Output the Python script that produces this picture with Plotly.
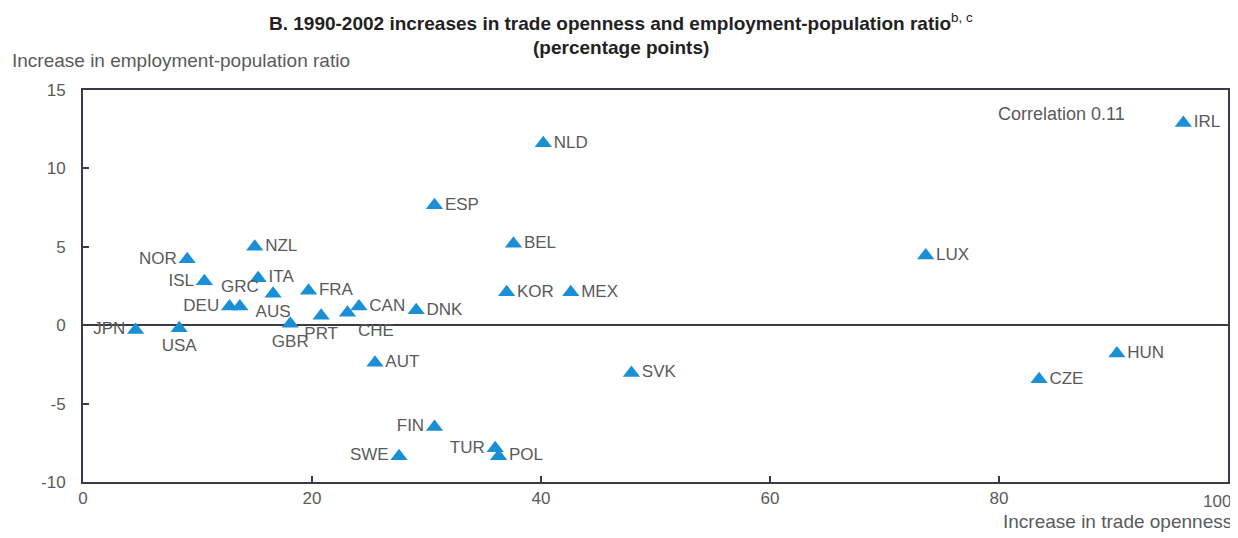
import plotly.graph_objects as go

# Data
countries = ["JPN", "USA", "NOR", "ISL", "DEU", "GRC", "NZL", "ITA", "AUS", "FRA",
             "GBR", "PRT", "CHE", "CAN", "DNK", "AUT", "ESP", "BEL", "NLD", "KOR",
             "MEX", "FIN", "SWE", "TUR", "POL", "SVK", "LUX", "IRL", "HUN", "CZE"]
trade_openness = [4.6, 8.4, 9.1, 10.6, 12.8, 13.7, 15.0, 15.3, 16.6, 19.7,
                  18.1, 20.8, 23.1, 24.1, 29.1, 25.5, 30.7, 37.6, 40.2, 37.0,
                  42.6, 30.7, 27.6, 36.0, 36.3, 47.9, 73.6, 96.1, 90.3, 83.5]
employment_ratio = [-0.3, -0.2, 4.2, 2.8, 1.2, 1.2, 5.0, 3.0, 2.0, 2.2,
                    0.1, 0.6, 0.8, 1.2, 0.95, -2.4, 7.65, 5.2, 11.6, 2.1,
                    2.1, -6.5, -8.35, -7.85, -8.35, -3.05, 4.45, 12.9, -1.8, -3.45]
x_ticks = [0, 20, 40, 60, 80, 100]
x_tick_labels = ["0", "20", "40", "60", "80", ""]
y_ticks = [-10, -5, 0, 5, 10, 15]
y_tick_labels = ["-10", "-5", "0", "5", "10", "15"]

label_side = {
    "JPN": "middle left", "USA": "bottom center", "NOR": "middle left",
    "ISL": "middle left", "DEU": "middle left", "GRC": "top center",
    "AUS": "bottom center", "GBR": "bottom center", "PRT": "bottom center",
    "CHE": "bottom right", "FIN": "middle left", "SWE": "middle left",
    "TUR": "middle left",
}
positions = [label_side.get(c, "middle right") for c in countries]

TEXT = "#5a5a5a"
FRAME = "#3c3a48"
BLUE = "#1b8fd6"
FONT = "Liberation Sans, Arial, sans-serif"

fig = go.Figure()
fig.add_trace(go.Scatter(
    x=trade_openness, y=employment_ratio, text=countries,
    mode="markers+text", textposition=positions,
    marker=dict(symbol="triangle-up", size=15, color=BLUE, line=dict(width=0)),
    textfont=dict(family=FONT, size=17, color=TEXT),
    cliponaxis=False, showlegend=False, hoverinfo="x+y+text",
))

# The page body adds an 8px margin, so the figure is 8px smaller on each side.
fig.update_layout(
    width=1230, height=530,
    margin=dict(l=75, r=10, t=82, b=56, autoexpand=False),
    paper_bgcolor="white", plot_bgcolor="white",
    font=dict(family=FONT, size=17, color=TEXT),
    xaxis=dict(range=[0, 100], tickvals=x_ticks, ticktext=x_tick_labels,
               showgrid=False, zeroline=False, automargin=False,
               showline=True, linecolor=FRAME, linewidth=2, mirror=True,
               ticks="inside", ticklen=6, tickcolor=FRAME, tickwidth=2,
               tickfont=dict(size=17, color=TEXT)),
    yaxis=dict(range=[-10, 15], tickvals=y_ticks, ticktext=y_tick_labels,
               showgrid=False, automargin=False, ticklabelstandoff=12,
               zeroline=True, zerolinecolor=FRAME, zerolinewidth=2,
               showline=True, linecolor=FRAME, linewidth=2, mirror=True,
               ticks="inside", ticklen=6, tickcolor=FRAME, tickwidth=2,
               tickfont=dict(size=17, color=TEXT)),
    annotations=[
        dict(text="<b>B. 1990-2002 increases in trade openness and employment-population ratio</b><sup>b, c</sup>",
             xref="paper", yref="paper", x=0.4695, y=1.1735, xanchor="center", yanchor="middle",
             showarrow=False, font=dict(size=19, color="#222222")),
        dict(text="<b>(percentage points)</b>",
             xref="paper", yref="paper", x=0.4695, y=1.1095, xanchor="center", yanchor="middle",
             showarrow=False, font=dict(size=19, color="#222222")),
        dict(text="Increase in employment-population ratio",
             xref="paper", yref="paper", x=-0.0638, y=1.0765, xanchor="left", yanchor="middle",
             showarrow=False, font=dict(size=19, color=TEXT)),
        dict(text="Increase in trade openness",
             xref="paper", yref="paper", x=1.0052, y=-0.102, xanchor="right", yanchor="middle",
             showarrow=False, font=dict(size=19, color=TEXT)),
        dict(text="100", xref="x", yref="paper", x=100, y=0, xshift=-11, yshift=-8,
             xanchor="center", yanchor="top", showarrow=False,
             font=dict(size=17, color=TEXT)),
        dict(text="Correlation 0.11",
             xref="x", yref="y", x=85.5, y=13.5, xanchor="center", yanchor="middle",
             showarrow=False, font=dict(size=18, color=TEXT)),
    ],
)

fig.write_html("out.html")
